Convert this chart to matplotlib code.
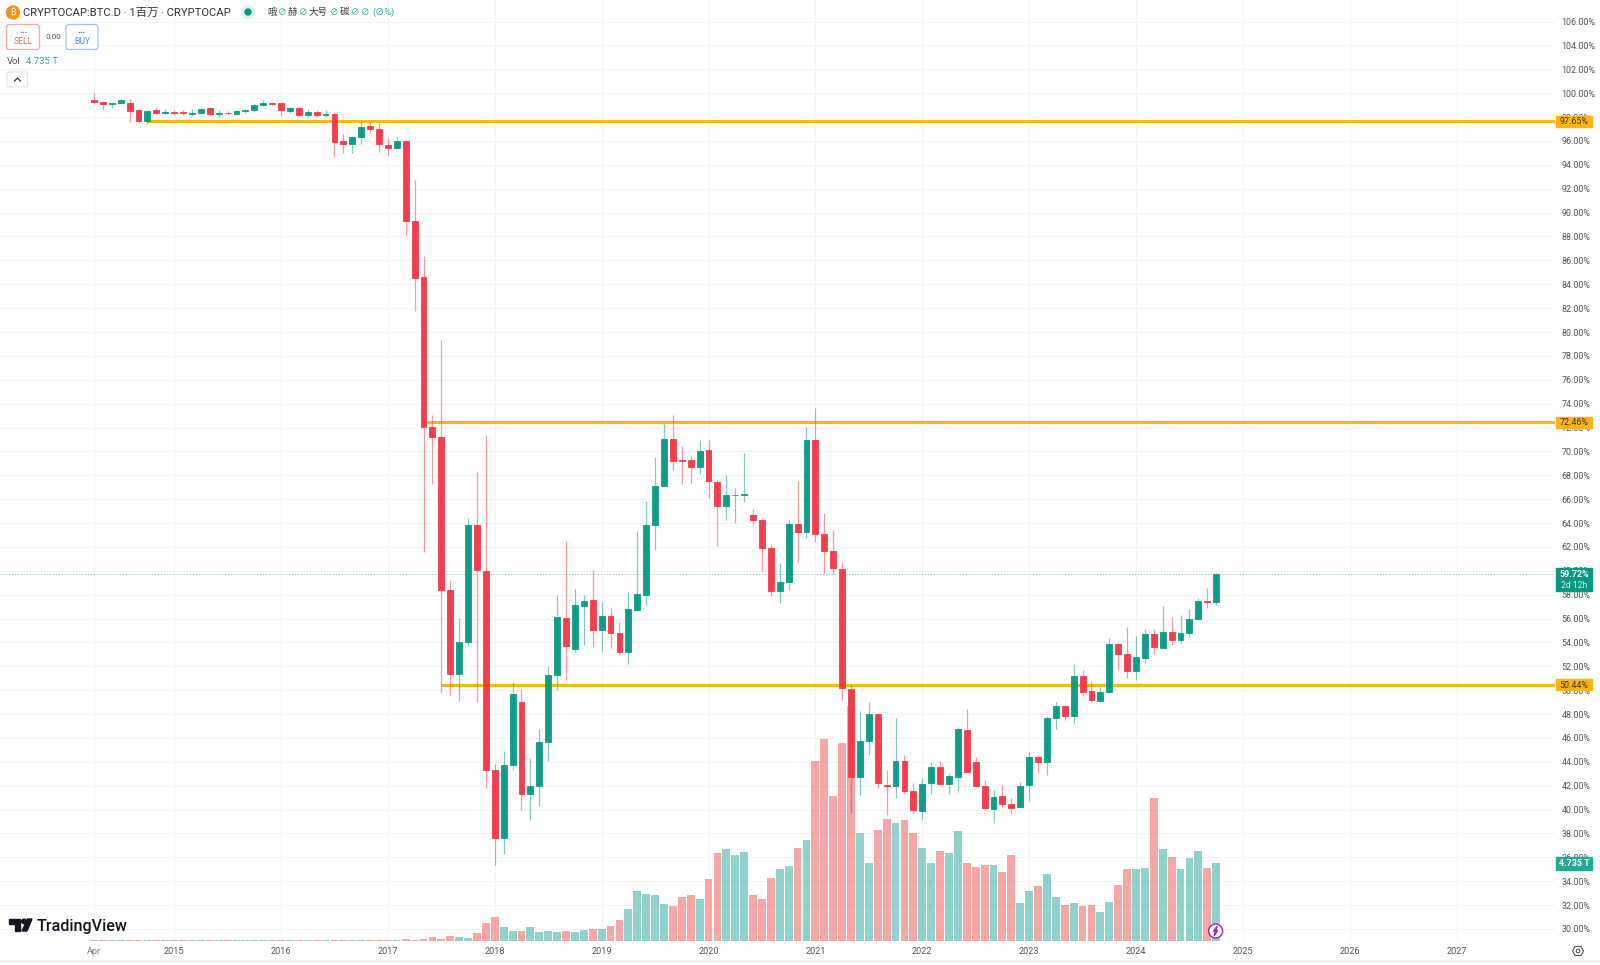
import matplotlib
matplotlib.use('Agg')
import matplotlib.pyplot as plt
from matplotlib.patches import Circle, FancyBboxPatch, Polygon, Rectangle

plt.rcParams['font.family'] = ['Roboto', 'Noto Sans CJK SC', 'DejaVu Sans']

opens = [99.47, 99.30, 99.10, 99.19, 99.21, 98.57, 97.70, 98.57, 98.38, 98.43, 98.43, 98.26, 98.32, 98.74, 98.26, 98.38,
         98.26, 98.52, 98.57, 99.02, 99.16, 99.16, 98.54, 98.77, 98.21, 98.46, 98.15, 98.29, 95.97, 95.78, 96.34, 97.29,
         97.01, 95.67, 95.44, 95.97, 89.26, 84.62, 72.05, 71.18, 58.39, 51.37, 54.06, 63.84, 59.98, 43.33, 37.60, 43.72,
         49.00, 41.29, 42.01, 45.70, 51.29, 56.07, 53.44, 57.07, 57.55, 55.06, 56.24, 54.79, 53.22, 56.74, 58.00, 63.86,
         67.13, 71.07, 69.29, 69.25, 68.67, 70.12, 67.44, 65.43, 66.32, 66.37, 64.64, 64.25, 61.94, 58.33, 59.09, 63.95,
         63.25, 70.93, 63.08, 61.66, 60.17, 50.14, 42.77, 45.76, 48.02, 42.09, 41.96, 44.11, 41.59, 39.89, 42.26, 43.60,
         42.18, 42.77, 46.70, 43.97, 41.96, 40.08, 41.11, 40.48, 40.23, 42.09, 44.39, 43.97, 47.69, 48.69, 47.80, 51.20,
         49.90, 49.12, 49.81, 53.89, 53.03, 51.59, 52.66, 54.67, 53.55, 54.87, 54.23, 54.79, 56.00, 57.44, 57.38]
highs = [100.0, 99.38, 99.27, 99.49, 99.55, 98.68, 98.60, 98.82, 98.65, 98.57, 98.60, 98.71, 98.79, 98.88, 98.57, 98.54,
         98.60, 98.71, 99.10, 99.41, 99.30, 99.21, 98.88, 98.82, 98.71, 98.60, 98.57, 98.43, 96.62, 96.39, 97.62, 97.59,
         97.48, 96.22, 96.36, 96.10, 92.70, 86.33, 73.08, 79.37, 59.25, 56.07, 64.42, 68.25, 71.38, 43.83, 44.92, 50.70,
         50.12, 44.33, 46.76, 51.99, 57.99, 62.52, 58.50, 58.00, 60.03, 57.35, 56.88, 55.73, 58.19, 63.33, 65.85, 69.56,
         72.33, 73.08, 70.45, 69.64, 70.96, 70.96, 67.64, 68.03, 66.94, 69.90, 65.17, 64.42, 62.21, 60.68, 64.22, 67.52,
         72.05, 73.67, 64.85, 63.42, 60.74, 50.53, 48.27, 48.97, 48.05, 43.33, 47.71, 44.58, 42.21, 42.68, 43.97, 44.08,
         43.10, 46.90, 48.44, 44.42, 42.49, 41.63, 42.10, 40.98, 42.35, 44.84, 44.58, 47.88, 48.97, 48.72, 52.21, 51.71,
         50.76, 50.28, 54.39, 53.97, 55.26, 54.56, 55.15, 55.15, 57.07, 56.12, 56.32, 56.79, 57.74, 58.60, 59.78]
lows = [99.10, 98.60, 98.80, 99.19, 97.62, 97.54, 97.43, 98.26, 98.26, 98.21, 98.21, 98.10, 98.26, 98.10, 98.01, 98.15,
        98.21, 98.35, 98.54, 98.90, 98.99, 98.10, 98.35, 98.10, 98.01, 98.04, 98.01, 94.69, 94.97, 94.97, 95.75, 96.64,
        95.05, 94.80, 95.40, 88.15, 81.74, 61.57, 67.30, 49.75, 49.60, 49.11, 53.72, 48.97, 41.82, 35.39, 36.29, 43.33,
        39.97, 39.14, 40.34, 44.11, 50.03, 50.87, 53.16, 53.78, 53.58, 53.28, 53.53, 52.91, 52.21, 56.66, 57.16, 61.71,
        67.10, 68.47, 67.28, 67.33, 68.14, 66.09, 62.05, 64.23, 64.03, 65.79, 63.80, 60.00, 57.91, 57.27, 58.42, 60.76,
        62.74, 62.44, 59.73, 59.73, 49.20, 39.75, 41.26, 44.56, 41.82, 39.55, 41.00, 41.42, 39.66, 39.14, 41.32, 42.07,
        41.32, 41.51, 43.18, 41.96, 39.95, 38.89, 40.22, 39.64, 40.20, 40.75, 43.05, 42.88, 46.79, 47.49, 47.29, 49.53,
        48.91, 49.10, 49.80, 51.71, 50.98, 50.85, 52.27, 53.03, 53.50, 53.78, 53.97, 54.44, 55.95, 56.85, 57.10]
closes = [99.30, 99.13, 99.22, 99.41, 98.54, 97.65, 98.54, 98.35, 98.43, 98.35, 98.32, 98.35, 98.71, 98.24, 98.35, 98.32,
          98.52, 98.57, 99.02, 99.16, 99.10, 98.63, 98.77, 98.21, 98.46, 98.18, 98.26, 95.94, 95.78, 96.31, 97.15, 97.01,
          95.78, 95.39, 96.00, 89.29, 84.54, 72.02, 71.21, 58.39, 51.37, 54.06, 63.84, 60.03, 43.30, 37.60, 43.72, 49.64,
          41.29, 42.01, 45.70, 51.26, 56.12, 53.66, 57.10, 57.49, 55.01, 56.24, 54.79, 53.16, 56.79, 58.06, 63.84, 67.07,
          71.07, 69.23, 69.17, 68.67, 70.07, 67.49, 65.43, 66.32, 66.37, 66.43, 64.25, 61.94, 58.33, 59.09, 63.95, 63.25,
          70.99, 63.08, 61.69, 60.20, 50.17, 42.77, 45.76, 48.02, 42.21, 41.96, 44.11, 41.57, 39.97, 42.15, 43.60, 42.18,
          42.80, 46.79, 43.18, 41.96, 40.17, 41.09, 40.48, 40.17, 42.01, 44.39, 43.97, 47.69, 48.69, 47.88, 51.20, 49.81,
          49.14, 49.81, 53.89, 53.03, 51.59, 52.77, 54.67, 53.61, 54.87, 54.23, 54.81, 56.00, 57.44, 57.38, 59.72]
volumes = [0.07, 0.08, 0.07, 0.07, 0.08, 0.07, 0.08, 0.07, 0.07, 0.07, 0.07, 0.07, 0.07, 0.08, 0.07, 0.07,
           0.07, 0.07, 0.07, 0.07, 0.07, 0.08, 0.07, 0.08, 0.07, 0.07, 0.07, 0.08, 0.07, 0.07, 0.08, 0.08,
           0.08, 0.08, 0.08, 0.10, 0.07, 0.14, 0.24, 0.14, 0.30, 0.24, 0.20, 0.47, 1.07, 1.47, 0.83, 0.62,
           0.62, 0.83, 0.56, 0.62, 0.56, 0.59, 0.53, 0.67, 0.71, 0.71, 0.89, 1.29, 1.92, 3.02, 2.84, 2.76,
           2.24, 2.13, 2.64, 2.78, 2.54, 3.75, 5.32, 5.56, 5.20, 5.38, 2.78, 2.54, 3.81, 4.37, 4.52, 5.64,
           6.09, 10.90, 12.19, 8.77, 11.97, 14.20, 6.53, 4.73, 6.71, 7.39, 7.12, 7.30, 6.53, 5.64, 4.70, 5.46,
           5.30, 6.63, 4.73, 4.47, 4.61, 4.58, 4.17, 5.18, 2.28, 3.02, 3.31, 4.03, 2.68, 2.18, 2.32, 2.13,
           2.18, 1.77, 2.36, 3.39, 4.33, 4.33, 4.43, 8.65, 5.54, 5.10, 4.33, 5.02, 5.42, 4.43, 4.735]

time_ticks = [0, 9, 21, 33, 45, 57, 69, 81, 93, 105, 117, 129, 141, 153]
time_labels = ['Apr', '2015', '2016', '2017', '2018', '2019', '2020', '2021', '2022', '2023', '2024', '2025', '2026', '2027']
price_ticks = list(range(30, 108, 2))
levels = [97.65, 72.46, 50.44]
level_starts = [6, 37, 39]
last_price = 59.72
last_volume = 4.735

GREEN = '#089981'
RED = '#F23645'
ORANGE = '#FBB60D'
TEXT = '#50535E'
GRID = '#F3F4F6'

fig = plt.figure(figsize=(16, 9.65), dpi=100)

# axes sit on the pane's pixel box, 1555 wide and 941 tall
ax = fig.add_axes([0, (965 - 941) / 965, 1555 / 1600, 941 / 965])
vax = ax.twinx()
ax.set_zorder(2)
vax.set_zorder(1)
ax.patch.set_visible(False)

ax.set_xlim(-94.0 / 8.906, (1555 - 94.0) / 8.906)
ax.set_ylim(30 - 12 / 11.94, 30 + 929 / 11.94)
vax.set_ylim(0, 941 / 78.3 * last_volume)

x = list(range(len(opens)))
cols = [GREEN if c >= o else RED for o, c in zip(opens, closes)]

# grid goes on the lower axes so it stays under the volume bars
for p in price_ticks:
    vax.plot(ax.get_xlim(), [p, p], color=GRID, linewidth=0.75, transform=ax.transData, zorder=0)
for t in time_ticks:
    vax.plot([t, t], ax.get_ylim(), color=GRID, linewidth=0.75, transform=ax.transData, zorder=0)
vax.set_ylim(0, 941 / 78.3 * last_volume)

vax.bar(x, volumes, width=0.88, color=['#26A69A' if c == GREEN else '#EF5350' for c in cols], alpha=0.5, linewidth=0, zorder=1)
vax.set_yticks([])

ax.set_yticks(price_ticks)
ax.set_yticklabels(['%.2f%%' % p for p in price_ticks], fontsize=6.4, color=TEXT)
ax.yaxis.tick_right()
ax.set_xticks(time_ticks)
ax.set_xticklabels(time_labels, fontsize=6.6, color=TEXT)
ax.get_xticklabels()[0].set_color('#787B86')
ax.tick_params(axis='both', length=0)
ax.tick_params(axis='y', pad=4.5)
ax.tick_params(axis='x', pad=4.5)
for s in ax.spines.values():
    s.set_visible(False)
for s in vax.spines.values():
    s.set_visible(False)

ax.axhline(last_price, color=GREEN, alpha=0.55, linewidth=0.7, linestyle=(0, (1, 2)), zorder=1.5)

for lev, start in zip(levels, level_starts):
    ax.plot([start, ax.get_xlim()[1]], [lev, lev], color=ORANGE, linewidth=2.1, solid_capstyle='butt', zorder=2)

ax.vlines(x, lows, highs, colors=cols, linewidth=0.9, alpha=0.5, zorder=3)
bottoms = [min(o, c) for o, c in zip(opens, closes)]
heights = [abs(o - c) for o, c in zip(opens, closes)]
ax.bar(x, heights, bottom=bottoms, width=0.66, color=cols, edgecolor=cols, linewidth=0.6, alpha=0.95, zorder=4)

# price scale boxes
tr = ax.get_yaxis_transform()
box_w = 36.5 / 1555
for lev in levels:
    ax.add_patch(Rectangle((1.0005, lev - 0.46), box_w, 0.92, transform=tr, color=ORANGE, clip_on=False, zorder=6))
    ax.text(1.0005 + box_w / 2, lev - 0.02, '%.2f%%' % lev, transform=tr, fontsize=6.4, color='#3A3320',
            ha='center', va='center', zorder=7)
ax.add_patch(Rectangle((1.0005, last_price - 1.42), box_w, 1.9, transform=tr, color=GREEN, clip_on=False, zorder=6))
ax.text(1.0005 + box_w / 2, last_price - 0.02, '%.2f%%' % last_price, transform=tr, fontsize=6.4, color='white',
        fontweight='bold', ha='center', va='center', zorder=7)
ax.text(1.0005 + box_w / 2, last_price - 0.92, '2d 12h', transform=tr, fontsize=6.2, color='#D5EFEA',
        ha='center', va='center', zorder=7)
ax.add_patch(Rectangle((1.0005, 35.5 - 0.53), box_w, 1.06, transform=tr, color='#22AB94', clip_on=False, zorder=6))
ax.text(1.0005 + box_w / 2, 35.48, '4.735 T', transform=tr, fontsize=6.4, color='white', fontweight='bold',
        ha='center', va='center', zorder=7)

# header, buttons, logo and other chrome in pixel coordinates
ov = fig.add_axes([0, 0, 1, 1], zorder=5)
ov.set_xlim(0, 1600)
ov.set_ylim(965, 0)
ov.axis('off')
ov.patch.set_visible(False)

ov.add_patch(Circle((13, 12.5), 6.5, color='#F7931A'))
ov.text(13, 12.5, '₿', fontsize=6, color='white', ha='center', va='center',
        family=['Inter', 'Noto Sans', 'Roboto', 'Open Sans', 'DejaVu Sans'])
ov.text(23, 12.5, 'CRYPTOCAP:BTC.D · 1百万 · CRYPTOCAP', fontsize=8.15, color='#2E3138', va='center')
ov.add_patch(Circle((248, 12), 6.5, color='#DDF1EE'))
ov.add_patch(Circle((248, 12), 3, color=GREEN))

for lab, px, w in [('哦', 267, 10), ('赫', 288, 10), ('大号', 309, 20), ('碳', 340, 10)]:
    ov.text(px, 12.5, lab, fontsize=6.8, color='#3C3F48', va='center')
    ov.text(px + w + 0.5, 12.5, '∅', fontsize=6.2, color='#2BA896', va='center')
ov.text(361, 12.5, '∅', fontsize=6.2, color='#2BA896', va='center')
ov.text(372, 12.5, '(∅%)', fontsize=6.6, color='#2BA896', va='center')

ov.add_patch(FancyBboxPatch((6.5, 24.5), 33, 25, boxstyle='round,pad=0,rounding_size=3', fc='white', ec='#F8A5AB', lw=0.9))
ov.text(23, 30, '...', fontsize=7, fontweight='bold', color=RED, ha='center', va='center')
ov.text(23, 42, 'SELL', fontsize=6.2, color='#F2656F', ha='center', va='center')
ov.text(53, 37, '0.00', fontsize=5.8, color='#50535E', ha='center', va='center')
ov.add_patch(FancyBboxPatch((66, 24.5), 32, 25, boxstyle='round,pad=0,rounding_size=3', fc='white', ec='#A6BEFB', lw=0.9))
ov.text(82, 30, '...', fontsize=7, fontweight='bold', color='#2962FF', ha='center', va='center')
ov.text(82, 42, 'BUY', fontsize=6.2, color='#5D86F8', ha='center', va='center')

ov.text(7, 61, 'Vol', fontsize=6.8, color='#50535E', va='center')
ov.text(26, 61, '4.735 T', fontsize=6.8, color='#2BA896', va='center')
ov.add_patch(FancyBboxPatch((7, 72), 20.5, 15, boxstyle='round,pad=0,rounding_size=2', fc='white', ec='#E0E3EB', lw=0.8))
ov.plot([14.5, 17.5, 20.5], [81, 78, 81], color='#2E3138', linewidth=0.9)

# TradingView mark
ov.add_patch(Polygon([(9, 919), (20, 919), (20, 931), (14.5, 931), (14.5, 924), (9, 924)], color='#131722'))
ov.add_patch(Circle((24, 921.4), 2.3, color='#131722'))
ov.add_patch(Polygon([(27.5, 919), (32, 919), (27, 931), (22, 931)], color='#131722'))
ov.text(37, 926.5, 'TradingView', fontsize=11.6, color='#131722', fontweight='medium', va='center')

# lightning marker on the last bar, gear and the bottom rule
ov.add_patch(Circle((1215.6, 931), 7, fc='white', ec='#9C27B0', lw=1.0))
ov.add_patch(Polygon([(1217, 926.5), (1213.5, 931.5), (1215.6, 931.5), (1214.2, 935.5), (1217.7, 930.3), (1215.6, 930.3)],
                     color='#9C27B0'))
ov.add_patch(Polygon([(1572.5, 951), (1575, 946.5), (1581, 946.5), (1583.5, 951), (1581, 955.5), (1575, 955.5)],
                     fc='white', ec='#50535E', lw=0.8))
ov.add_patch(Circle((1578, 951), 1.8, fc='white', ec='#50535E', lw=0.8))
ov.plot([0, 1600], [961, 961], color='#E6E8EE', linewidth=1)

fig.savefig('out.png', dpi=100)
